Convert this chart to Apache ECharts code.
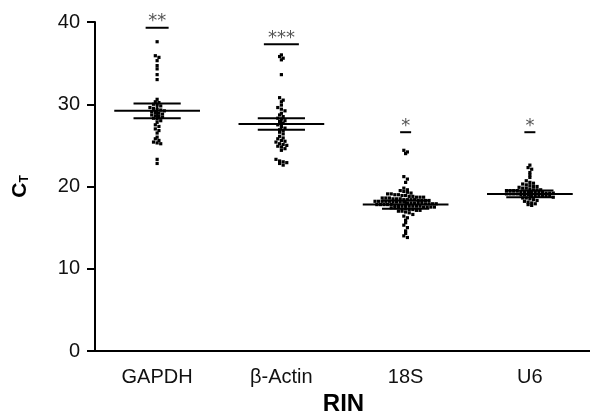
<!DOCTYPE html>
<html>
<head>
<meta charset="utf-8">
<script src="https://cdn.jsdelivr.net/npm/echarts@6/dist/echarts.min.js"></script>
<style>html,body{margin:0;padding:0;background:#fff}#c{width:590px;height:415px}</style>
</head>
<body>
<div id="c"></div>
<script>
const categories = ['GAPDH', 'β-Actin', '18S', 'U6'];

const gapdhCT = [37.6, 35.9, 35.7, 35.3, 34.7, 34.3, 33.6, 33.0,
  30.6, 30.3, 30.2, 30.0, 29.9, 29.8, 29.6, 29.5, 29.4, 29.3, 29.2, 29.1, 29.0,
  28.9, 28.8, 28.7, 28.6, 28.5, 28.4, 28.3, 28.2, 28.0,
  27.8, 27.5, 27.3, 27.0, 26.8, 26.5, 26.0, 25.8, 25.6, 25.4, 25.3, 25.2, 23.3, 22.8];

const actinCT = [36.0, 35.8, 35.6, 35.4, 33.6,
  30.8, 30.5, 30.3, 29.9, 29.6, 29.4, 29.2,
  28.9, 28.7, 28.5, 28.3, 28.2, 28.0, 27.9, 27.7, 27.5, 27.3, 27.1,
  26.9, 26.8, 26.6, 26.4, 26.1, 25.9, 25.8, 25.6, 25.5, 25.4, 25.2, 25.1, 25.0,
  24.9, 24.8, 24.6, 24.4, 23.3, 23.1, 23.0, 22.9, 22.8, 22.6];

const s18CT = [24.4, 24.2, 24.0, 21.2, 20.9, 20.5, 19.8, 19.6, 19.5, 19.4, 19.3,
  19.2, 19.1, 19.1, 19.0, 19.0, 18.9, 18.9,
  18.8, 18.8, 18.7, 18.7, 18.7, 18.6, 18.6, 18.6, 18.5, 18.5, 18.5,
  18.4, 18.4, 18.4, 18.4, 18.3, 18.3, 18.3, 18.3, 18.2, 18.2, 18.2, 18.2, 18.2,
  18.1, 18.1, 18.1, 18.1, 18.0, 18.0, 18.0, 18.0, 18.0,
  17.9, 17.9, 17.9, 17.9, 17.8, 17.8, 17.8, 17.8, 17.8, 17.7, 17.7, 17.7, 17.7,
  17.6, 17.6, 17.6, 17.6, 17.5, 17.5, 17.5, 17.5, 17.4, 17.4, 17.4, 17.3, 17.3,
  17.2, 17.2, 17.1, 17.1,
  17.0, 17.0, 16.9, 16.8, 16.6, 16.4, 16.2, 15.9, 15.6, 15.3, 15.0, 14.6, 14.3, 14.0, 13.8];

const u6CT = [22.6, 22.3, 22.1, 21.7, 21.4, 21.1, 20.7, 20.5, 20.4, 20.3, 20.2, 20.1,
  20.0, 20.0, 19.9, 19.8, 19.8, 19.7, 19.6, 19.6, 19.6, 19.5, 19.5, 19.5, 19.5,
  19.4, 19.4, 19.4, 19.3, 19.3, 19.3, 19.3, 19.2, 19.2, 19.2, 19.1, 19.1, 19.1, 19.1,
  19.0, 19.0, 19.0, 18.9, 18.9, 18.9, 18.9, 18.8, 18.8, 18.7, 18.6, 18.6, 18.5,
  18.4, 18.3, 18.2, 18.1, 18.0, 17.9, 17.8, 17.7];

const meanCT = [29.2, 27.6, 17.8, 19.1];
const errCT = [0.9, 0.7, 0.5, 0.4];
const sigLevel = [39.3, 37.3, 26.6, 26.6];
const sigLabel = ['**', '***', '*', '*'];

const yMin = 0, yMax = 40, yStep = 10;

// beeswarm: group values into horizontal rows, centre each row
const BIN = 0.42;
function swarm(values, catIdx) {
  const rows = {};
  values.forEach(v => {
    const b = Math.round(v / BIN);
    (rows[b] = rows[b] || []).push(v);
  });
  const out = [];
  Object.keys(rows).forEach(k => {
    const r = rows[k];
    r.forEach((v, i) => out.push([catIdx, v, i - (r.length - 1) / 2]));
  });
  return out;
}
const pointData = [].concat(
  swarm(gapdhCT, 0), swarm(actinCT, 1), swarm(s18CT, 2), swarm(u6CT, 3));

const statData = meanCT.map((m, i) => [i, m, errCT[i]]);
const sigData = sigLevel.map((s, i) => [i, s]);

const chart = echarts.init(document.getElementById('c'), null, {renderer: 'canvas'});
const FONT = '"Liberation Sans", Arial, Helvetica, sans-serif';
const STEP = 3.6;

chart.setOption({
  animation: false,
  backgroundColor: '#fff',
  grid: {left: 95, top: 22, width: 497, bottom: 64, containLabel: false, outerBoundsMode: 'none'},
  xAxis: {
    type: 'category',
    data: categories,
    boundaryGap: true,
    name: 'RIN',
    nameLocation: 'middle',
    nameGap: 41,
    nameTextStyle: {fontFamily: FONT, fontSize: 24, fontWeight: 'bold', color: '#000'},
    axisLine: {lineStyle: {color: '#000', width: 2}},
    axisTick: {alignWithLabel: true, length: 8, lineStyle: {color: '#000', width: 2}},
    axisLabel: {fontFamily: FONT, fontSize: 20, color: '#111', margin: 16},
    splitLine: {show: false}
  },
  yAxis: {
    type: 'value',
    min: yMin, max: yMax, interval: yStep,
    name: '{c|C}{t|T}',
    nameLocation: 'middle',
    nameGap: 64,
    nameRotate: 90,
    nameTextStyle: {
      rich: {
        c: {fontFamily: FONT, fontSize: 21, fontWeight: 'bold', color: '#000'},
        t: {fontFamily: FONT, fontSize: 12, fontWeight: 'bold', color: '#000', verticalAlign: 'bottom', padding: [10, 0, 0, 0]}
      }
    },
    axisLine: {show: true, lineStyle: {color: '#000', width: 2}},
    axisTick: {show: true, length: 8, lineStyle: {color: '#000', width: 2}},
    axisLabel: {fontFamily: FONT, fontSize: 20, color: '#111', margin: 15},
    splitLine: {show: false}
  },
  series: [
    {
      type: 'custom',
      data: pointData,
      encode: {x: 0, y: 1},
      renderItem: function (params, api) {
        const c = api.coord([api.value(0), api.value(1)]);
        const x = c[0] + api.value(2) * STEP;
        return {type: 'rect', shape: {x: x - 1.6, y: c[1] - 1.6, width: 3.2, height: 3.2},
          style: {fill: '#000'}};
      },
      z: 3
    },
    {
      type: 'custom',
      data: statData,
      encode: {x: 0, y: 1},
      renderItem: function (params, api) {
        const cat = api.value(0), m = api.value(1), e = api.value(2);
        const band = api.size([1, 0])[0];
        const cm = api.coord([cat, m]);
        const ch = api.coord([cat, m + e]);
        const cl = api.coord([cat, m - e]);
        const mh = band * 0.345, eh = band * 0.19;
        const st = {stroke: '#000', lineWidth: 2};
        return {type: 'group', children: [
          {type: 'line', shape: {x1: cm[0] - mh, y1: cm[1], x2: cm[0] + mh, y2: cm[1]}, style: st},
          {type: 'line', shape: {x1: ch[0] - eh, y1: ch[1], x2: ch[0] + eh, y2: ch[1]}, style: st},
          {type: 'line', shape: {x1: cl[0] - eh, y1: cl[1], x2: cl[0] + eh, y2: cl[1]}, style: st},
          {type: 'line', shape: {x1: ch[0], y1: ch[1], x2: cl[0], y2: cl[1]}, style: st}
        ]};
      },
      z: 4
    },
    {
      type: 'custom',
      data: sigData,
      encode: {x: 0, y: 1},
      renderItem: function (params, api) {
        const c = api.coord([api.value(0), api.value(1)]);
        const lab = sigLabel[params.dataIndex];
        const hw = (lab.length * 12 - 1) / 2;
        return {type: 'group', children: [
          {type: 'line', shape: {x1: c[0] - hw, y1: c[1], x2: c[0] + hw, y2: c[1]},
            style: {stroke: '#000', lineWidth: 2}},
          {type: 'text', x: c[0], y: c[1] - 6,
            style: {text: lab, textAlign: 'center', textVerticalAlign: 'middle',
              font: '18px "DejaVu Sans", sans-serif', fill: '#555'}}
        ]};
      },
      z: 5
    }
  ]
});
</script>
</body>
</html>
